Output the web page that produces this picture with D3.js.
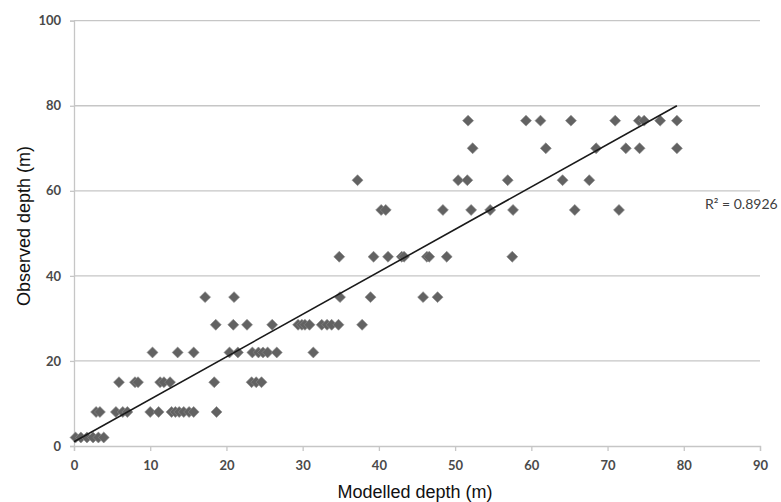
<!DOCTYPE html>
<html>
<head>
<meta charset="utf-8">
<script src="https://cdn.jsdelivr.net/npm/d3@7"></script>
<style>
  html, body { margin: 0; padding: 0; background: #fff; }
  svg { display: block; }
</style>
</head>
<body>
<svg id="chart" width="781" height="502"></svg>
<script>
// ---- data ----
const modelledDepth = [
  0.2, 0.9, 1.7, 2.5, 3.2, 3.9,
  2.9, 3.4, 5.5, 6.4, 7.0, 10.0, 11.1, 12.8, 13.3, 13.8, 14.4, 15.1, 15.7, 18.7,
  5.9, 8.0, 8.4, 11.3, 11.8, 12.6, 18.4, 23.3, 23.9, 24.6,
  10.3, 13.6, 15.7, 20.4, 21.5, 23.4, 24.2, 24.8, 25.4, 26.6, 31.4,
  18.6, 20.9, 22.7, 26.0, 29.4, 29.9, 30.3, 30.9, 32.5, 33.2, 33.8, 34.7, 37.8,
  17.2, 21.0, 34.9, 38.9, 45.8, 47.7,
  34.8, 39.3, 41.2, 43.0, 43.3, 46.3, 46.6, 48.9, 57.5,
  40.3, 40.9, 48.4, 52.1, 54.6, 57.6, 65.7, 71.5,
  37.2, 50.4, 51.6, 56.9, 64.1, 67.6,
  52.3, 61.9, 68.5, 72.4, 74.2, 79.1,
  51.7, 59.3, 61.2, 65.2, 71.0, 74.1, 74.8, 76.9, 79.1
];
const observedDepth = [
  2, 2, 2, 2, 2, 2,
  8, 8, 8, 8, 8, 8, 8, 8, 8, 8, 8, 8, 8, 8,
  15, 15, 15, 15, 15, 15, 15, 15, 15, 15,
  22, 22, 22, 22, 22, 22, 22, 22, 22, 22, 22,
  28.5, 28.5, 28.5, 28.5, 28.5, 28.5, 28.5, 28.5, 28.5, 28.5, 28.5, 28.5, 28.5,
  35, 35, 35, 35, 35, 35,
  44.5, 44.5, 44.5, 44.5, 44.5, 44.5, 44.5, 44.5, 44.5,
  55.5, 55.5, 55.5, 55.5, 55.5, 55.5, 55.5, 55.5,
  62.5, 62.5, 62.5, 62.5, 62.5, 62.5,
  70, 70, 70, 70, 70, 70,
  76.5, 76.5, 76.5, 76.5, 76.5, 76.5, 76.5, 76.5, 76.5
];
const xTicks = [0, 10, 20, 30, 40, 50, 60, 70, 80, 90];
const yTicks = [0, 20, 40, 60, 80, 100];
const trendX = [0, 79.1];
const trendY = [1.0, 80.0];
const rSquaredLabel = "R² = 0.8926";
const xTitle = "Modelled depth (m)";
const yTitle = "Observed depth (m)";

// ---- layout ----
const svg = d3.select("#chart");
const x = d3.scaleLinear().domain([0, 90]).range([74, 760]);
const y = d3.scaleLinear().domain([0, 100]).range([446, 20.7]);

const gridColor = "#c6c6c6";
const tickFont = "Lato, 'Open Sans', sans-serif";

// gridlines
svg.append("g")
  .selectAll("line")
  .data(yTicks.filter(d => d > 0))
  .join("line")
  .attr("x1", x(0)).attr("x2", x(90))
  .attr("y1", d => y(d)).attr("y2", d => y(d))
  .attr("stroke", gridColor).attr("stroke-width", 1.3);

// y axis
const yAxis = svg.append("g")
  .attr("transform", `translate(${x(0)},0)`)
  .call(d3.axisLeft(y).tickValues(yTicks).tickSize(4).tickPadding(9));
yAxis.select(".domain").attr("stroke", gridColor).attr("stroke-width", 1.3);
yAxis.selectAll(".tick line").attr("stroke", gridColor).attr("stroke-width", 1.3);
yAxis.selectAll("text")
  .attr("font-family", tickFont).attr("font-weight", "bold")
  .attr("font-size", 13).attr("fill", "#4a4a4a");

// x axis
const xAxis = svg.append("g")
  .attr("transform", `translate(0,${y(0)})`)
  .call(d3.axisBottom(x).tickValues(xTicks).tickSize(5).tickPadding(10));
xAxis.select(".domain").attr("stroke", gridColor).attr("stroke-width", 1.3);
xAxis.selectAll(".tick line").attr("stroke", gridColor).attr("stroke-width", 1.3);
xAxis.selectAll("text")
  .attr("font-family", tickFont).attr("font-weight", "bold")
  .attr("font-size", 13).attr("fill", "#4a4a4a");

// points (diamonds: rotated squares)
const points = modelledDepth.map((m, i) => ({ m, o: observedDepth[i] }));
const diamond = d3.symbol().type(d3.symbolSquare).size(60);
svg.append("g")
  .selectAll("path")
  .data(points)
  .join("path")
  .attr("d", diamond)
  .attr("transform", d => `translate(${x(d.m)},${y(d.o)}) rotate(45)`)
  .attr("fill", "#626262")
  .attr("stroke", "#8a8a8a")
  .attr("stroke-width", 0.6);

// trendline
svg.append("path")
  .datum(trendX.map((tx, i) => [tx, trendY[i]]))
  .attr("d", d3.line().x(d => x(d[0])).y(d => y(d[1])))
  .attr("fill", "none")
  .attr("stroke", "#1a1a1a")
  .attr("stroke-width", 1.6);

// R² label
svg.append("text")
  .attr("x", 705).attr("y", 209)
  .attr("font-family", tickFont).attr("font-size", 14)
  .attr("fill", "#404040")
  .text(rSquaredLabel);

// axis titles
svg.append("text")
  .attr("x", 415).attr("y", 498)
  .attr("text-anchor", "middle")
  .attr("font-family", "'Liberation Sans', Arial, sans-serif")
  .attr("font-size", 18).attr("fill", "#111")
  .text(xTitle);

svg.append("text")
  .attr("transform", "translate(30,226) rotate(-90)")
  .attr("text-anchor", "middle")
  .attr("font-family", "'Liberation Sans', Arial, sans-serif")
  .attr("font-size", 18).attr("fill", "#111")
  .text(yTitle);
</script>
</body>
</html>
